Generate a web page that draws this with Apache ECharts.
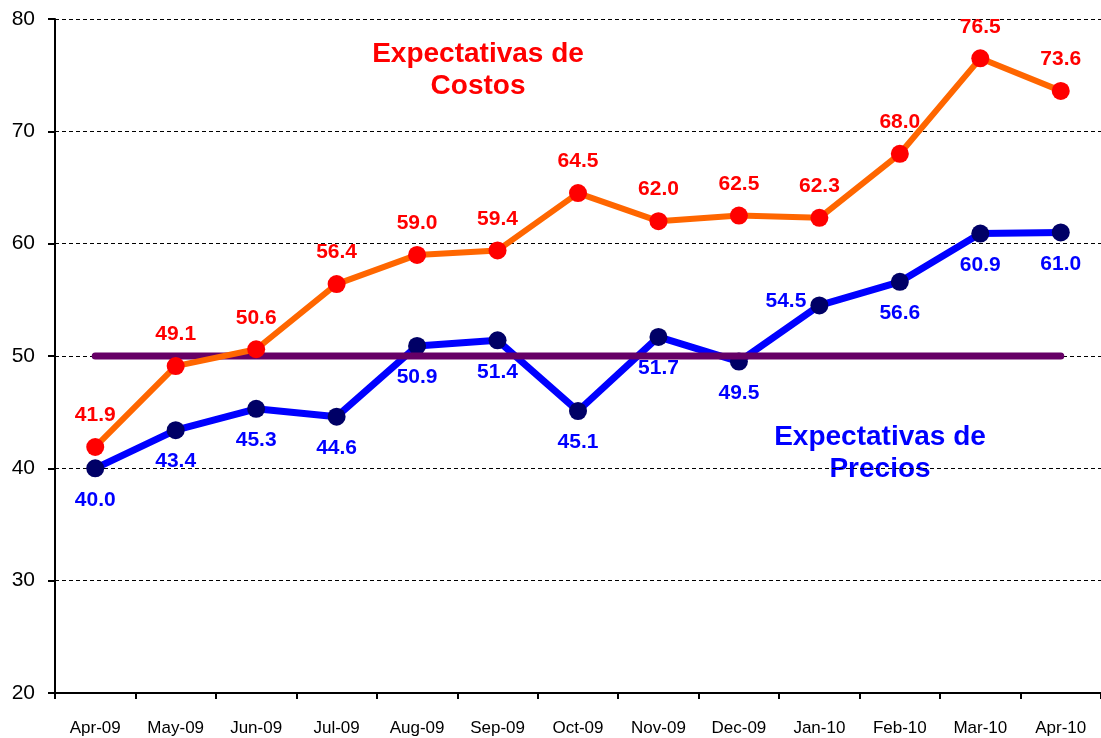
<!DOCTYPE html>
<html>
<head>
    <meta charset="utf-8">
    <title>Expectativas de Costos y Precios</title>
    <script src="https://cdnjs.cloudflare.com/ajax/libs/echarts/6.0.0/echarts.min.js"></script>
    <style>
        html, body { margin: 0; padding: 0; background: #fff; }
        #chart { width: 1101px; height: 738px; }
    </style>
</head>
<body>
    <div id="chart"></div>
    <script>
        // datos
        const months = ['Apr-09', 'May-09', 'Jun-09', 'Jul-09', 'Aug-09', 'Sep-09', 'Oct-09',
                        'Nov-09', 'Dec-09', 'Jan-10', 'Feb-10', 'Mar-10', 'Apr-10'];
        const costos = [41.9, 49.1, 50.6, 56.4, 59.0, 59.4, 64.5, 62.0, 62.5, 62.3, 68.0, 76.5, 73.6];
        const precios = [40.0, 43.4, 45.3, 44.6, 50.9, 51.4, 45.1, 51.7, 49.5, 54.5, 56.6, 60.9, 61.0];
        const referencia = [50, 50, 50, 50, 50, 50, 50, 50, 50, 50, 50, 50, 50];

        const font = 'Arial, "Liberation Sans", sans-serif';

        // etiquetas de precios: casi todas abajo, Jan-10 a la izquierda
        const preciosData = precios.map((v, i) => {
            if (months[i] === 'Jan-10') {
                return { value: v, label: { position: 'left', distance: 4, offset: [0, -4] } };
            }
            return v;
        });

        const chart = echarts.init(document.getElementById('chart'));
        chart.setOption({
            animation: false,
            grid: { left: 55, top: 19, bottom: 45, width: 1048 },
            xAxis: {
                type: 'category',
                data: months,
                boundaryGap: true,
                axisLine: { lineStyle: { color: '#000', width: 2 } },
                axisTick: { show: true, length: 6, lineStyle: { color: '#000', width: 2 } },
                axisLabel: { color: '#000', fontSize: 17, fontFamily: font, margin: 27 }
            },
            yAxis: {
                type: 'value',
                min: 20,
                max: 80,
                interval: 10,
                axisLine: { show: true, lineStyle: { color: '#000', width: 2 } },
                axisTick: { show: true, length: 7, lineStyle: { color: '#000', width: 2 } },
                axisLabel: { color: '#000', fontSize: 21, fontFamily: font, margin: 20 },
                splitLine: { lineStyle: { color: '#000', width: 1, type: [4, 3] } }
            },
            series: [
                {
                    name: 'Costos',
                    type: 'line',
                    data: costos,
                    symbol: 'circle',
                    symbolSize: 18,
                    z: 3,
                    lineStyle: { color: '#FF6600', width: 6 },
                    itemStyle: { color: '#FF0000' },
                    label: {
                        show: true, position: 'top', distance: 12,
                        color: '#FF0000', fontSize: 21, fontWeight: 'bold', fontFamily: font,
                        formatter: p => p.value.toFixed(1)
                    }
                },
                {
                    name: 'Precios',
                    type: 'line',
                    data: preciosData,
                    symbol: 'circle',
                    symbolSize: 18,
                    z: 2,
                    lineStyle: { color: '#0000FF', width: 7 },
                    itemStyle: { color: '#000066' },
                    label: {
                        show: true, position: 'bottom', distance: 12,
                        color: '#0000FF', fontSize: 21, fontWeight: 'bold', fontFamily: font,
                        formatter: p => Number(p.value).toFixed(1)
                    }
                },
                {
                    name: 'Referencia',
                    type: 'line',
                    data: referencia,
                    symbol: 'none',
                    z: 2.5,
                    lineStyle: { color: '#660066', width: 7, cap: 'round' },
                    silent: true
                }
            ],
            graphic: [
                {
                    type: 'text',
                    x: 478, y: 70,
                    style: {
                        text: 'Expectativas de\nCostos',
                        fill: '#FF0000',
                        font: 'bold 28px ' + font,
                        lineHeight: 32,
                        align: 'center',
                        verticalAlign: 'middle'
                    }
                },
                {
                    type: 'text',
                    x: 880, y: 453,
                    style: {
                        text: 'Expectativas de\nPrecios',
                        fill: '#0000FF',
                        font: 'bold 28px ' + font,
                        lineHeight: 32,
                        align: 'center',
                        verticalAlign: 'middle'
                    }
                }
            ]
        });
    </script>
</body>
</html>
